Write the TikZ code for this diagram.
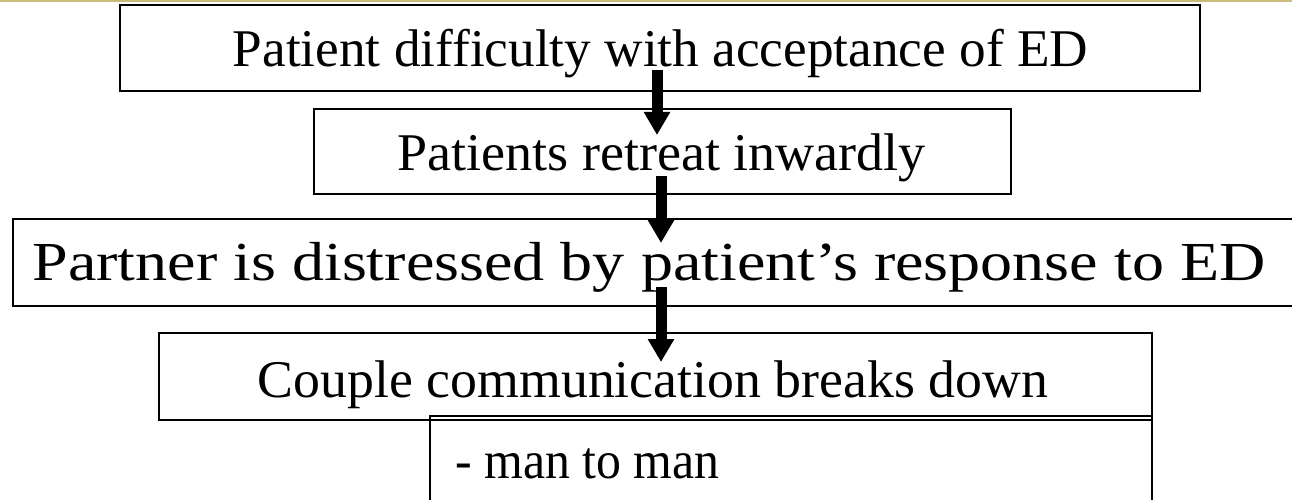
\documentclass[tikz,border=0pt]{standalone}
\usepackage{fontspec}
\setmainfont{Liberation Serif}
\usetikzlibrary{arrows.meta}
\definecolor{gold}{RGB}{204,186,124}
\tikzset{
  boxline/.style={draw=black, line width=2.2pt},
  lbl/.style={anchor=base, inner sep=0pt, font=\fontsize{53}{60}\selectfont},
  bigarrow/.style={line width=11pt, -{Triangle[width=25pt,length=23pt]}},
}
\begin{document}
\begin{tikzpicture}[x=1pt,y=-1pt]
\useasboundingbox (0,0) rectangle (1292,500);
\clip (0,0) rectangle (1292,500);
\fill[white] (0,0) rectangle (1292,500);
\fill[gold] (0,0) rectangle (1292,2.5);
% boxes
\draw[boxline] (120,5) rectangle (1200,91);
\draw[boxline] (314,109) rectangle (1011,194);
\draw[boxline] (13,219) rectangle (1300,306);
\draw[boxline] (159,333) rectangle (1152,420);
\draw[line width=1.6pt] (430,520) -- (430,416) -- (1152,416) -- (1152,520);
% texts
\node[lbl] (t1) at (660.5,67) {\scalebox{1.005}[1]{Patient difficulty with acceptance of ED}};
\node[lbl] (t2) at (661.5,170) {\scalebox{1.02}[1]{Patients retreat inwardly}};
\node[lbl, font=\fontsize{55}{62}\selectfont] (t3) at (649,280) {\scalebox{1.165}[1]{Partner is distressed by patient’s response to ED}};
\node[lbl] (t4) at (653,397) {\scalebox{1.015}[1]{Couple communication breaks down}};
\node[lbl, anchor=base west] (t5) at (455,478) {\scalebox{0.94}[1]{- man to man}};
% arrows
\coordinate (a1s) at (657,70);
\coordinate (a1e) at (657,135);
\coordinate (a2s) at (661,176);
\coordinate (a2e) at (661,243);
\coordinate (a3s) at (661,287);
\coordinate (a3e) at (661,362);
\draw[bigarrow] (a1s) -- (a1e);
\draw[bigarrow] (a2s) -- (a2e);
\draw[bigarrow] (a3s) -- (a3e);
\end{tikzpicture}
\end{document}
